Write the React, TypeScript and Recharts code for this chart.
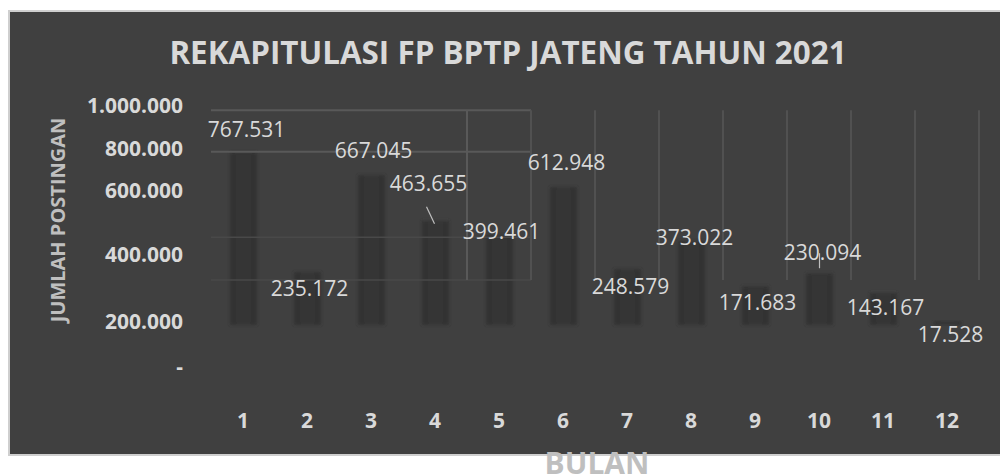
import React from 'react';
import { ComposedChart, Bar, XAxis, YAxis, ReferenceLine, LabelList } from 'recharts';

// data
const months = ['1', '2', '3', '4', '5', '6', '7', '8', '9', '10', '11', '12'];
const posts = [767531, 235172, 667045, 463655, 399461, 612948, 248579, 373022, 171683, 230094, 143167, 17528];
const axisTicks = [0, 200000, 400000, 600000, 800000, 1000000];

// back wall of the 3D chart (values on the bar scale)
const wallRows = [955000, 770000];
const wallRowsFaint = [390000, 200000];
const wallColStarts = months.slice(4);
const wallRowFrom = '1';
const wallRowTo = '6';

// label offsets from bar top (px), Excel placed them all over the place
const labelShift: [number, number][] = [
  [3, -23], [2, 16], [2, -25], [-7, -38], [2, -4], [3, -25],
  [3, 17], [3, -4], [2, 16], [3, -21], [2, 14], [3, 13],
];
const leaders: Record<number, number[]> = {
  3: [-9, -14, -1, 3],
  9: [0, -20, 0, -5],
};
// the 3D axis labels are not evenly spaced
const tickNudge = [0, 9, -4, -14, -2, 9];

const barDomain = [-182222, 1017778];
const FONT = "'Open Sans', sans-serif";

const chartData = months.map((m, i) => ({ month: m, value: posts[i] }));

const fmt = (v: number) => (v === 0 ? '-' : String(v).replace(/\B(?=(\d{3})+(?!\d))/g, '.'));

const renderValue = (props: any) => {
  const { x, y, width, index, value } = props;
  const [dx, dy] = labelShift[index];
  const cx = x + width / 2;
  const lead = leaders[index];
  return (
    <g>
      {lead && (
        <line x1={cx + lead[0]} y1={y + lead[1]} x2={cx + lead[2]} y2={y + lead[3]} stroke="#bfbfbf" strokeWidth={1.2} />
      )}
      <text
        x={cx + dx}
        y={y + dy}
        textAnchor="middle"
        dominantBaseline="central"
        fill="#d9d9d9"
        fontSize={21}
        fontFamily={FONT}
      >
        {fmt(value)}
      </text>
    </g>
  );
};

const YTick = (props: any) => {
  const { x, y, payload, index } = props;
  return (
    <text
      x={x}
      y={y + (tickNudge[index] || 0)}
      textAnchor="end"
      dominantBaseline="central"
      fill="#d9d9d9"
      fontSize={21}
      fontWeight={700}
      fontFamily={FONT}
    >
      {fmt(payload.value)}
    </text>
  );
};

export default function App() {
  return (
    <div style={{ position: 'absolute', left: 0, top: 0, width: 1000, height: 476, overflow: 'hidden', background: '#fff' }}>
      <svg width={0} height={0} style={{ position: 'absolute' }}>
        <defs>
          <linearGradient id="colFill" x1="0" y1="0" x2="1" y2="0">
            <stop offset="0%" stopColor="#2f2f2f" />
            <stop offset="35%" stopColor="#363636" />
            <stop offset="65%" stopColor="#363636" />
            <stop offset="100%" stopColor="#2f2f2f" />
          </linearGradient>
          <filter id="soft" x="-30%" y="-10%" width="160%" height="120%">
            <feGaussianBlur stdDeviation="1.4" />
          </filter>
        </defs>
      </svg>

      <div
        style={{
          position: 'absolute',
          left: 8,
          top: 10,
          width: 1000,
          height: 442,
          background: '#404040',
          border: '2px solid #cfcfcf',
          borderRight: 'none',
        }}
      />

      <div style={{ position: 'absolute', left: 0, top: 0 }}>
        <ComposedChart width={1000} height={476} data={chartData} margin={{ top: 96, right: 21, bottom: 70, left: 0 }}>
          <XAxis
            xAxisId="cat"
            dataKey="month"
            height={40}
            axisLine={false}
            tickLine={false}
            tickSize={0}
            tickMargin={47}
            tick={{ fill: '#d9d9d9', fontSize: 21, fontWeight: 700, fontFamily: FONT }}
          />
          <YAxis
            yAxisId="ticks"
            domain={[0, 1000000]}
            ticks={axisTicks}
            allowDataOverflow
            width={211}
            axisLine={false}
            tickLine={false}
            tickSize={0}
            tickMargin={28}
            tick={<YTick />}
          />
          <YAxis yAxisId="bar" orientation="right" width={0} domain={barDomain} allowDataOverflow hide />

          {wallRows.map((v) => (
            <ReferenceLine
              key={`r${v}`}
              xAxisId="cat"
              yAxisId="bar"
              position="start"
              segment={[{ x: wallRowFrom, y: v }, { x: wallRowTo, y: v }]}
              stroke="#595959"
              strokeWidth={2}
            />
          ))}
          {wallRowsFaint.map((v) => (
            <ReferenceLine
              key={`f${v}`}
              xAxisId="cat"
              yAxisId="bar"
              position="start"
              segment={[{ x: wallRowFrom, y: v }, { x: wallRowTo, y: v }]}
              stroke="#494949"
              strokeWidth={1.5}
            />
          ))}
          {wallColStarts.map((c) => (
            <ReferenceLine
              key={`c${c}`}
              xAxisId="cat"
              yAxisId="bar"
              position="start"
              segment={[{ x: c, y: wallRowsFaint[1] }, { x: c, y: wallRows[0] }]}
              stroke={c === '5' ? '#595959' : '#515151'}
              strokeWidth={2}
            />
          ))}
          <ReferenceLine
            xAxisId="cat"
            yAxisId="bar"
            position="end"
            segment={[{ x: '12', y: wallRowsFaint[1] }, { x: '12', y: wallRows[0] }]}
            stroke="#515151"
            strokeWidth={2}
          />

          <Bar
            xAxisId="cat"
            yAxisId="bar"
            dataKey="value"
            barSize={27}
            fill="url(#colFill)"
            style={{ filter: 'url(#soft)' }}
            isAnimationActive={false}
          >
            <LabelList dataKey="value" content={renderValue} />
          </Bar>
        </ComposedChart>
      </div>

      <svg width={1000} height={476} style={{ position: 'absolute', left: 0, top: 0, pointerEvents: 'none' }}>
        <text x={508} y={64} textAnchor="middle" fill="#d9d9d9" fontSize={31.4} fontWeight={700} fontFamily={FONT}>
          REKAPITULASI FP BPTP JATENG TAHUN 2021
        </text>
        <text
          transform="translate(65 220) rotate(-90)"
          textAnchor="middle"
          fill="#bfbfbf"
          fontSize={20}
          fontWeight={700}
          fontFamily={FONT}
        >
          JUMLAH POSTINGAN
        </text>
        <text x={597} y={474} textAnchor="middle" fill="#bfbfbf" fontSize={30} fontWeight={700} fontFamily={FONT}>
          BULAN
        </text>
      </svg>
    </div>
  );
}
